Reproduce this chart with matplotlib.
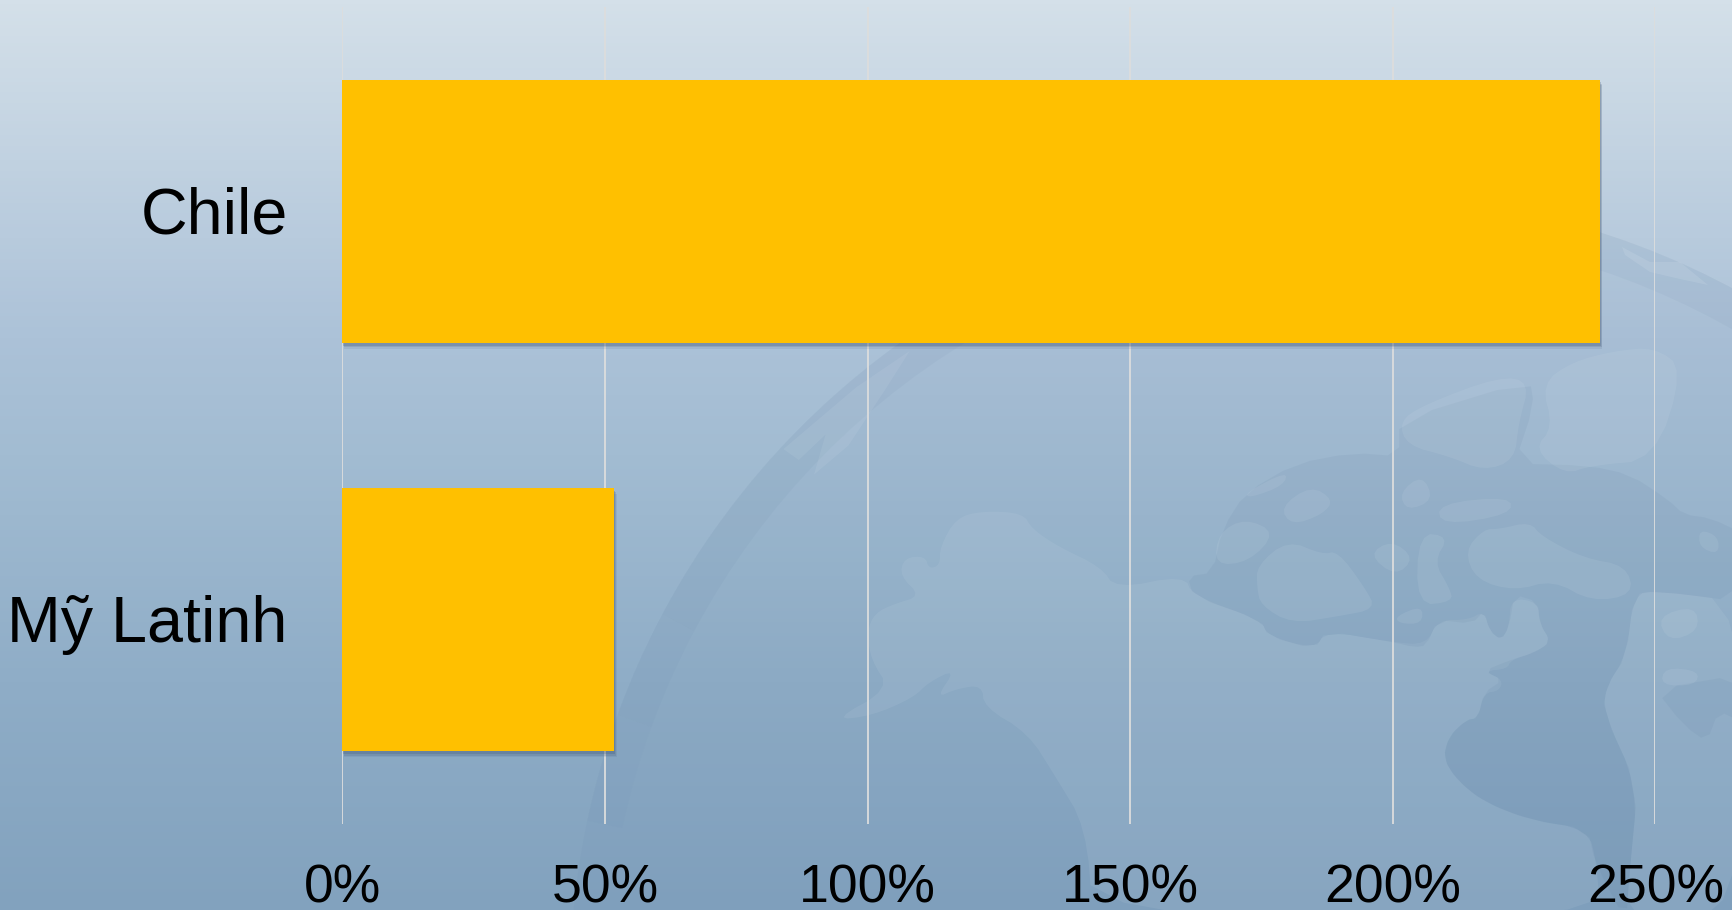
import numpy as np
import matplotlib
matplotlib.use('Agg')
import matplotlib.pyplot as plt
from matplotlib.colors import LinearSegmentedColormap
from matplotlib.patches import Polygon, Circle, Wedge
from matplotlib.transforms import ScaledTranslation
from matplotlib import patheffects as pe

plt.rcParams['font.family'] = ['Liberation Sans', 'DejaVu Sans']

categories = ['Chile', 'Mỹ Latinh']
values = [239.5, 51.8]
ticks = [0, 50, 100, 150, 200, 250]
tick_labels = ['0%', '50%', '100%', '150%', '200%', '250%']

W, H = 1733, 910
fig = plt.figure(figsize=(W / 100, H / 100), dpi=100)

# backdrop, in pixel coordinates of the slide
bg = fig.add_axes([0, 0, 1, 1])
bg.set_xlim(0, W)
bg.set_ylim(H, 0)
bg.axis('off')
cmap = LinearSegmentedColormap.from_list('slide', [
    (0.0, '#D4E0E9'), (0.37, '#ACC2D8'), (0.5, '#A2BCD2'),
    (0.75, '#8FADC7'), (1.0, '#82A2BE')])
bg.imshow(np.linspace(0, 1, 256).reshape(-1, 1), cmap=cmap, aspect='auto',
          extent=[0, W, H, 0], zorder=0)

DARK = '#4A6A90'
LIGHT = '#DCE8F0'

# globe: disc and darker rim, the rim fades out towards the lower left
cx, cy, R = 1360, 985, 790
bg.add_patch(Circle((cx, cy), R, fc=DARK, ec='none', alpha=0.04, zorder=1))
for a1, a2, alpha in [(208, 340, 0.05), (200, 208, 0.035), (192, 200, 0.02)]:
    bg.add_patch(Wedge((cx, cy), R, a1, a2, width=36, fc=DARK, ec='none', alpha=alpha, zorder=1))


def from_left(pts):
    return [(550 + x / 2.613, 340 + y / 2.75) for x, y in pts]


def from_right(pts):
    return [(1130 + x / 2.6, 340 + y / 2.75) for x, y in pts]


# round off the corners of a hand traced outline
def smooth(pts, passes=2):
    p = np.array(pts, dtype=float)
    for _ in range(passes):
        q = np.roll(p, -1, axis=0)
        p = np.column_stack([0.75 * p + 0.25 * q, 0.25 * p + 0.75 * q]).reshape(-1, 2)
    return p


mainland_w = [(956, 518), (982, 511), (1023, 513), (1032, 529), (1059, 547), (1101, 567),
              (1116, 589), (1184, 575), (1193, 596), (1261, 620), (1268, 636), (1315, 649),
              (1326, 631), (1391, 642), (1426, 645), (1438, 620), (1468, 620), (1484, 611),
              (1490, 631), (1501, 640), (1509, 627), (1511, 598), (1538, 602), (1540, 624),
              (1551, 642), (1534, 653), (1511, 660), (1507, 669), (1484, 671), (1503, 680),
              (1499, 691), (1484, 693), (1478, 718), (1466, 720), (1449, 736), (1443, 758),
              (1457, 780), (1484, 802), (1530, 820), (1588, 829), (1597, 864), (1600, 920),
              (1093, 920), (1086, 827), (1055, 776), (1028, 733), (984, 707), (982, 685),
              (956, 689), (936, 698), (956, 669), (929, 682), (913, 698), (871, 716),
              (833, 720), (890, 689), (871, 660), (867, 631), (875, 613), (894, 604),
              (921, 596), (900, 576), (904, 558), (925, 556), (929, 569), (940, 565), (940, 547)]
mainland_e = [(1634, 594), (1657, 591), (1745, 602), (1745, 920), (1626, 920), (1630, 867),
              (1638, 787), (1603, 711), (1607, 685), (1626, 656)]
for shape in [mainland_w, mainland_e]:
    bg.add_patch(Polygon(smooth(shape), fc=LIGHT, ec='none', alpha=0.09, zorder=2))

arctic = from_right([(150, 650), (215, 640), (240, 520), (300, 420), (430, 340), (580, 310),
                     (700, 320), (700, 220), (1040, 110), (1050, 180), (1000, 340), (1190, 345),
                     (1300, 370), (1400, 440), (1440, 480), (1510, 490), (1590, 530), (1590, 720),
                     (1370, 690), (1310, 700), (1290, 870), (1240, 950), (1230, 1020), (1320, 1230),
                     (1300, 1450), (1290, 1600), (1210, 1440), (1190, 1345), (1040, 1320), (920, 1270),
                     (850, 1210), (815, 1150), (830, 1090), (875, 1045), (905, 1040), (920, 970),
                     (970, 935), (920, 910), (990, 880), (1050, 860), (1095, 830), (1065, 780),
                     (1060, 720), (1000, 700), (985, 790), (965, 825), (935, 800), (920, 745),
                     (890, 780), (800, 770), (770, 840), (740, 845), (680, 830), (510, 800),
                     (480, 850), (360, 815), (340, 770), (165, 705)])
east_sea = from_right([(1365, 960), (1590, 920), (1590, 1050), (1530, 1020), (1500, 1105), (1440, 1060)])
for shape in [arctic, east_sea]:
    bg.add_patch(Polygon(smooth(shape, 1), fc=DARK, ec='none', alpha=0.07, zorder=3))

islands = [
    [(760, 180), (960, 100), (1040, 115), (1010, 230), (1000, 330), (920, 360), (830, 320), (720, 290), (700, 225)],
    [(1070, 120), (1150, 60), (1260, 30), (1365, 20), (1440, 80), (1365, 330), (1200, 345), (1130, 370), (1050, 300), (1100, 240)],
    [(800, 450), (990, 430), (990, 480), (810, 510)],
    [(220, 620), (230, 530), (300, 490), (380, 530), (310, 610)],
    [(300, 420), (410, 360), (400, 400), (310, 435)],
    [(330, 620), (410, 550), (500, 590), (540, 580), (610, 680), (640, 740), (540, 760), (420, 780), (340, 730), (330, 680)],
    [(390, 460), (470, 400), (530, 440), (500, 480), (420, 510)],
    [(700, 420), (760, 370), (790, 440), (720, 470)],
    [(620, 590), (680, 550), (740, 600), (690, 650)],
    [(750, 530), (830, 540), (790, 610), (830, 680), (840, 720), (745, 730)],
    [(690, 760), (760, 730), (760, 780), (700, 780)],
    [(870, 580), (920, 520), (960, 520), (1040, 500), (1070, 540), (1180, 600), (1290, 620), (1310, 700), (1200, 720), (1100, 660), (1000, 690), (900, 660)],
    [(1370, 760), (1470, 730), (1480, 800), (1400, 830)],
    [(1390, 900), (1480, 910), (1470, 950), (1380, 950)],
    [(1480, 520), (1530, 540), (1530, 590), (1480, 570)],
]
for island in islands:
    bg.add_patch(Polygon(smooth(from_right(island)), fc=LIGHT, ec='none', alpha=0.10, zorder=4))

rim_land = from_left([(610, 300), (800, 130), (940, 30), (880, 130), (780, 290), (690, 370), (720, 260), (650, 330)])
bg.add_patch(Polygon(rim_land, fc=LIGHT, ec='none', alpha=0.10, zorder=4))
bg.add_patch(Polygon([(1622, 247), (1650, 262), (1680, 262), (1708, 285), (1680, 279), (1650, 272), (1625, 255)],
                     fc=LIGHT, ec='none', alpha=0.16, zorder=4))

# the chart itself
left, right, top, bottom = 342.4, 1655.4, 7, 824
ax = fig.add_axes([left / W, 1 - bottom / H, (right - left) / W, (bottom - top) / H])
ax.patch.set_alpha(0)

shadow = [pe.SimplePatchShadow(offset=(1.5, -4), shadow_rgbFace='#3A4F6E', alpha=0.10),
          pe.SimplePatchShadow(offset=(1, -3), shadow_rgbFace='#3A4F6E', alpha=0.16),
          pe.SimplePatchShadow(offset=(0.5, -2), shadow_rgbFace='#3A4F6E', alpha=0.22),
          pe.Normal()]
bars = ax.barh(categories, values, height=0.645, color='#FFC000', zorder=3)
for b in bars:
    b.set_path_effects(shadow)

ax.set_ylim(1.5, -0.5)
ax.set_xlim(0, 250)
ax.set_xticks(ticks)
ax.set_xticklabels(tick_labels)
ax.grid(axis='x', color='#DCDDDD', linewidth=1.3, zorder=1)
ax.set_axisbelow(True)
for side in ax.spines:
    ax.spines[side].set_visible(False)
ax.tick_params(axis='x', length=0, pad=28.5, labelsize=38.5, labelcolor='black')
ax.tick_params(axis='y', length=0, pad=39.5, labelsize=46.5, labelcolor='black')
for t in ax.get_yticklabels():
    t.set_va('center_baseline')
    t.set_transform(t.get_transform() + ScaledTranslation(0, 1.2 / 72, fig.dpi_scale_trans))

plt.savefig('out.png', dpi=100)
